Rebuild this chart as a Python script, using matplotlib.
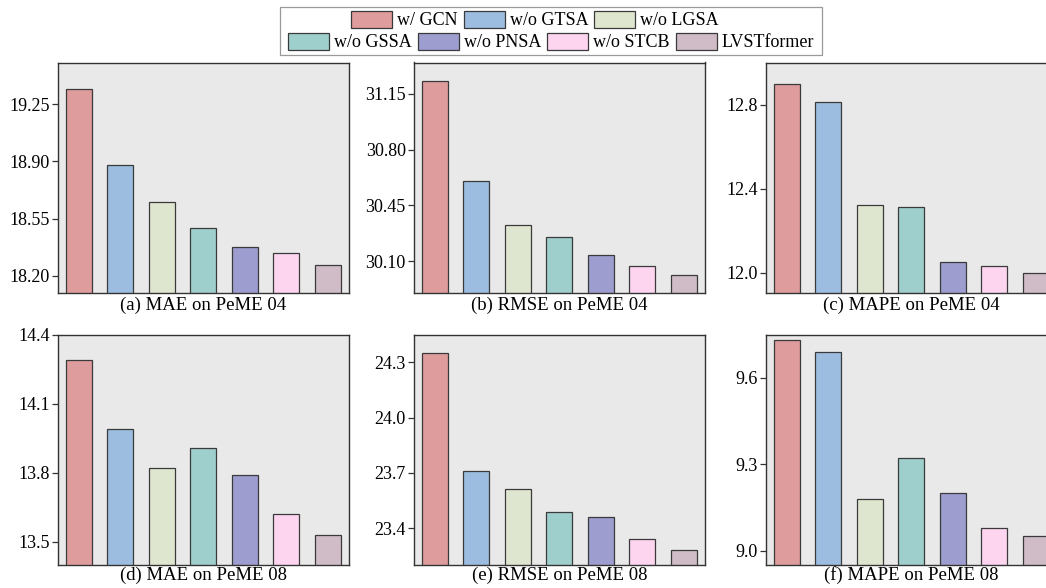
import matplotlib
matplotlib.use('Agg')
import matplotlib.pyplot as plt
from matplotlib.patches import Patch, Rectangle
import numpy as np

plt.rcParams['font.family'] = ['Liberation Serif', 'DejaVu Serif']

variants = ['w/ GCN', 'w/o GTSA', 'w/o LGSA', 'w/o GSSA', 'w/o PNSA', 'w/o STCB', 'LVSTformer']
colors = ['#de9c9d', '#9dbde0', '#dfe6cf', '#9fcfcd', '#9d9dcf', '#fdd5ef', '#cfbcc7']

mae_04 = [19.34, 18.88, 18.65, 18.49, 18.38, 18.34, 18.27]
rmse_04 = [31.23, 30.60, 30.33, 30.25, 30.14, 30.07, 30.01]
mape_04 = [12.90, 12.81, 12.32, 12.31, 12.05, 12.03, 12.00]
mae_08 = [14.29, 13.99, 13.82, 13.91, 13.79, 13.62, 13.53]
rmse_08 = [24.35, 23.71, 23.61, 23.49, 23.46, 23.34, 23.28]
mape_08 = [9.73, 9.69, 9.18, 9.32, 9.20, 9.08, 9.05]

panels = [
    (mae_04, '(a) MAE on PeME 04', (18.096, 19.504), [18.20, 18.55, 18.90, 19.25], '%.2f'),
    (rmse_04, '(b) RMSE on PeME 04', (29.90, 31.347), [30.10, 30.45, 30.80, 31.15], '%.2f'),
    (mape_04, '(c) MAPE on PeME 04', (11.903, 13.0), [12.0, 12.4, 12.8], '%.1f'),
    (mae_08, '(d) MAE on PeME 08', (13.40, 14.40), [13.5, 13.8, 14.1, 14.4], '%.1f'),
    (rmse_08, '(e) RMSE on PeME 08', (23.20, 24.45), [23.4, 23.7, 24.0, 24.3], '%.1f'),
    (mape_08, '(f) MAPE on PeME 08', (8.95, 9.75), [9.0, 9.3, 9.6], '%.1f'),
]

W, H = 1046, 588
fig = plt.figure(figsize=(W / 100, H / 100), dpi=100)

lefts = [58, 414, 766]
tops = [62.5, 334.7]
bottoms = [293, 565]
ax_w = 290.5

x = np.arange(len(variants))
for i, (vals, title, ylim, ticks, fmt) in enumerate(panels):
    r, c = divmod(i, 3)
    ax = fig.add_axes([lefts[c] / W, 1 - bottoms[r] / H, ax_w / W, (bottoms[r] - tops[r]) / H])
    ax.set_facecolor('#e9e9e9')
    ax.bar(x, vals, width=0.62, color=colors, edgecolor='#3a3a3a', linewidth=0.9, zorder=2)
    ax.set_xlim(-0.5, 6.5)
    ax.set_ylim(*ylim)
    ax.set_yticks(ticks)
    ax.set_yticklabels([fmt % t for t in ticks])
    ax.set_xticks([])
    ax.tick_params(axis='y', direction='out', length=4, width=0.9, labelsize=13, pad=2, color='#333333')
    for s in ax.spines.values():
        s.set_color('#333333')
        s.set_linewidth(1.0)
    ax.set_xlabel(title, fontsize=13.5, labelpad=3 if r == 0 else 1)

# legend: two centred rows inside a single frame
handles = [Patch(facecolor=c, edgecolor='#3a3a3a', linewidth=0.9) for c in colors]
leg_kw = dict(frameon=False, fontsize=13, handlelength=2.27, handleheight=1.1,
              handletextpad=0.28, columnspacing=0.33, borderpad=0, borderaxespad=0, loc='center')
leg1 = fig.legend(handles[:3], variants[:3], ncol=3, bbox_to_anchor=(535 / W, 1 - 20 / H), **leg_kw)
leg2 = fig.legend(handles[3:], variants[3:], ncol=4, bbox_to_anchor=(551 / W, 1 - 42 / H), **leg_kw)
fig.add_artist(Rectangle((280 / W, 1 - 55 / H), 542 / W, 48 / H, transform=fig.transFigure,
                         facecolor='white', edgecolor='#999999', linewidth=0.9, zorder=0))

plt.savefig('out.png', dpi=100)
